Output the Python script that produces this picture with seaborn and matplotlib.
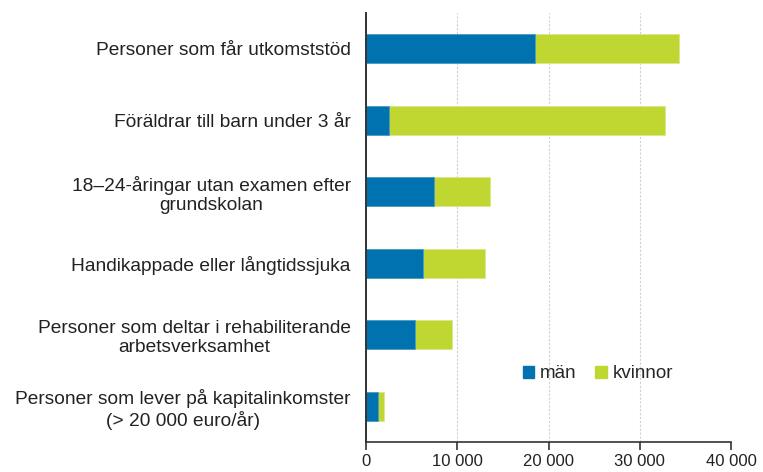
import matplotlib
matplotlib.use("Agg")
import matplotlib.pyplot as plt
from matplotlib.patches import Patch
from matplotlib.ticker import FuncFormatter
import seaborn as sns
import pandas as pd

categories = [
    "Personer som får utkomststöd",
    "Föräldrar till barn under 3 år",
    "18–24-åringar utan examen efter\ngrundskolan",
    "Handikappade eller långtidssjuka",
    "Personer som deltar i rehabiliterande\narbetsverksamhet",
    "Personer som lever på kapitalinkomster\n(> 20 000 euro/år)",
]
man = [18530, 2560, 7460, 6250, 5370, 1280]
kvinnor = [15790, 30190, 6140, 6830, 4020, 720]
x_ticks = [0, 10000, 20000, 30000, 40000]

BLUE = "#0072B0"
GREEN = "#BFD730"

df = pd.DataFrame({"kategori": categories, "män": man, "kvinnor": kvinnor})
df["total"] = df["män"] + df["kvinnor"]

sns.set_style("white")
plt.rcParams["font.family"] = ["Liberation Sans", "DejaVu Sans"]

fig = plt.figure(figsize=(7.63, 4.72), dpi=100)
ax = fig.add_axes([366 / 763, 1 - 442 / 472, (731 - 366) / 763, (442 - 13) / 472])

# stapla: totalen i grönt, männen i blått ovanpå
sns.barplot(data=df, y="kategori", x="total", color=GREEN, width=0.4,
            orient="h", ax=ax, saturation=1, edgecolor="#d8e98a", linewidth=0.6)
sns.barplot(data=df, y="kategori", x="män", color=BLUE, width=0.4,
            orient="h", ax=ax, saturation=1, edgecolor="#4d9cc8", linewidth=0.6)

ax.set_xlim(0, 40000)
ax.set_ylim(5.5, -0.5)
ax.set_xticks(x_ticks)
ax.xaxis.set_major_formatter(FuncFormatter(lambda v, p: f"{int(v):,}".replace(",", " ")))
ax.set_xlabel("")
ax.set_ylabel("")
ax.set_axisbelow(True)
ax.grid(axis="x", color="#d0d0d0", linestyle=(0, (2, 1.5)), linewidth=0.8)
ax.grid(axis="y", visible=False)

for s in ["top", "right"]:
    ax.spines[s].set_visible(False)
ax.spines["left"].set_color("#333333")
ax.spines["left"].set_linewidth(1.4)
ax.spines["bottom"].set_color("#333333")
ax.spines["bottom"].set_linewidth(1.2)

ax.tick_params(axis="x", direction="out", length=6, width=1.2, color="#333333",
               labelsize=12, labelcolor="#222222", pad=3, bottom=True)
ax.tick_params(axis="y", length=0, labelsize=13.8, labelcolor="#222222", pad=11)
for lbl in ax.get_yticklabels():
    lbl.set_multialignment("center")
    lbl.set_linespacing(1.2)

handles = [Patch(color=BLUE, label="män"), Patch(color=GREEN, label="kvinnor")]
ax.legend(handles=handles, ncol=2, frameon=False, fontsize=13.5,
          loc="center", bbox_to_anchor=((598 - 366) / 365, 1 - (374 - 13) / 429),
          handlelength=0.6, handleheight=0.6, handletextpad=0.3, columnspacing=1.0)

fig.savefig("out.png", dpi=100)
